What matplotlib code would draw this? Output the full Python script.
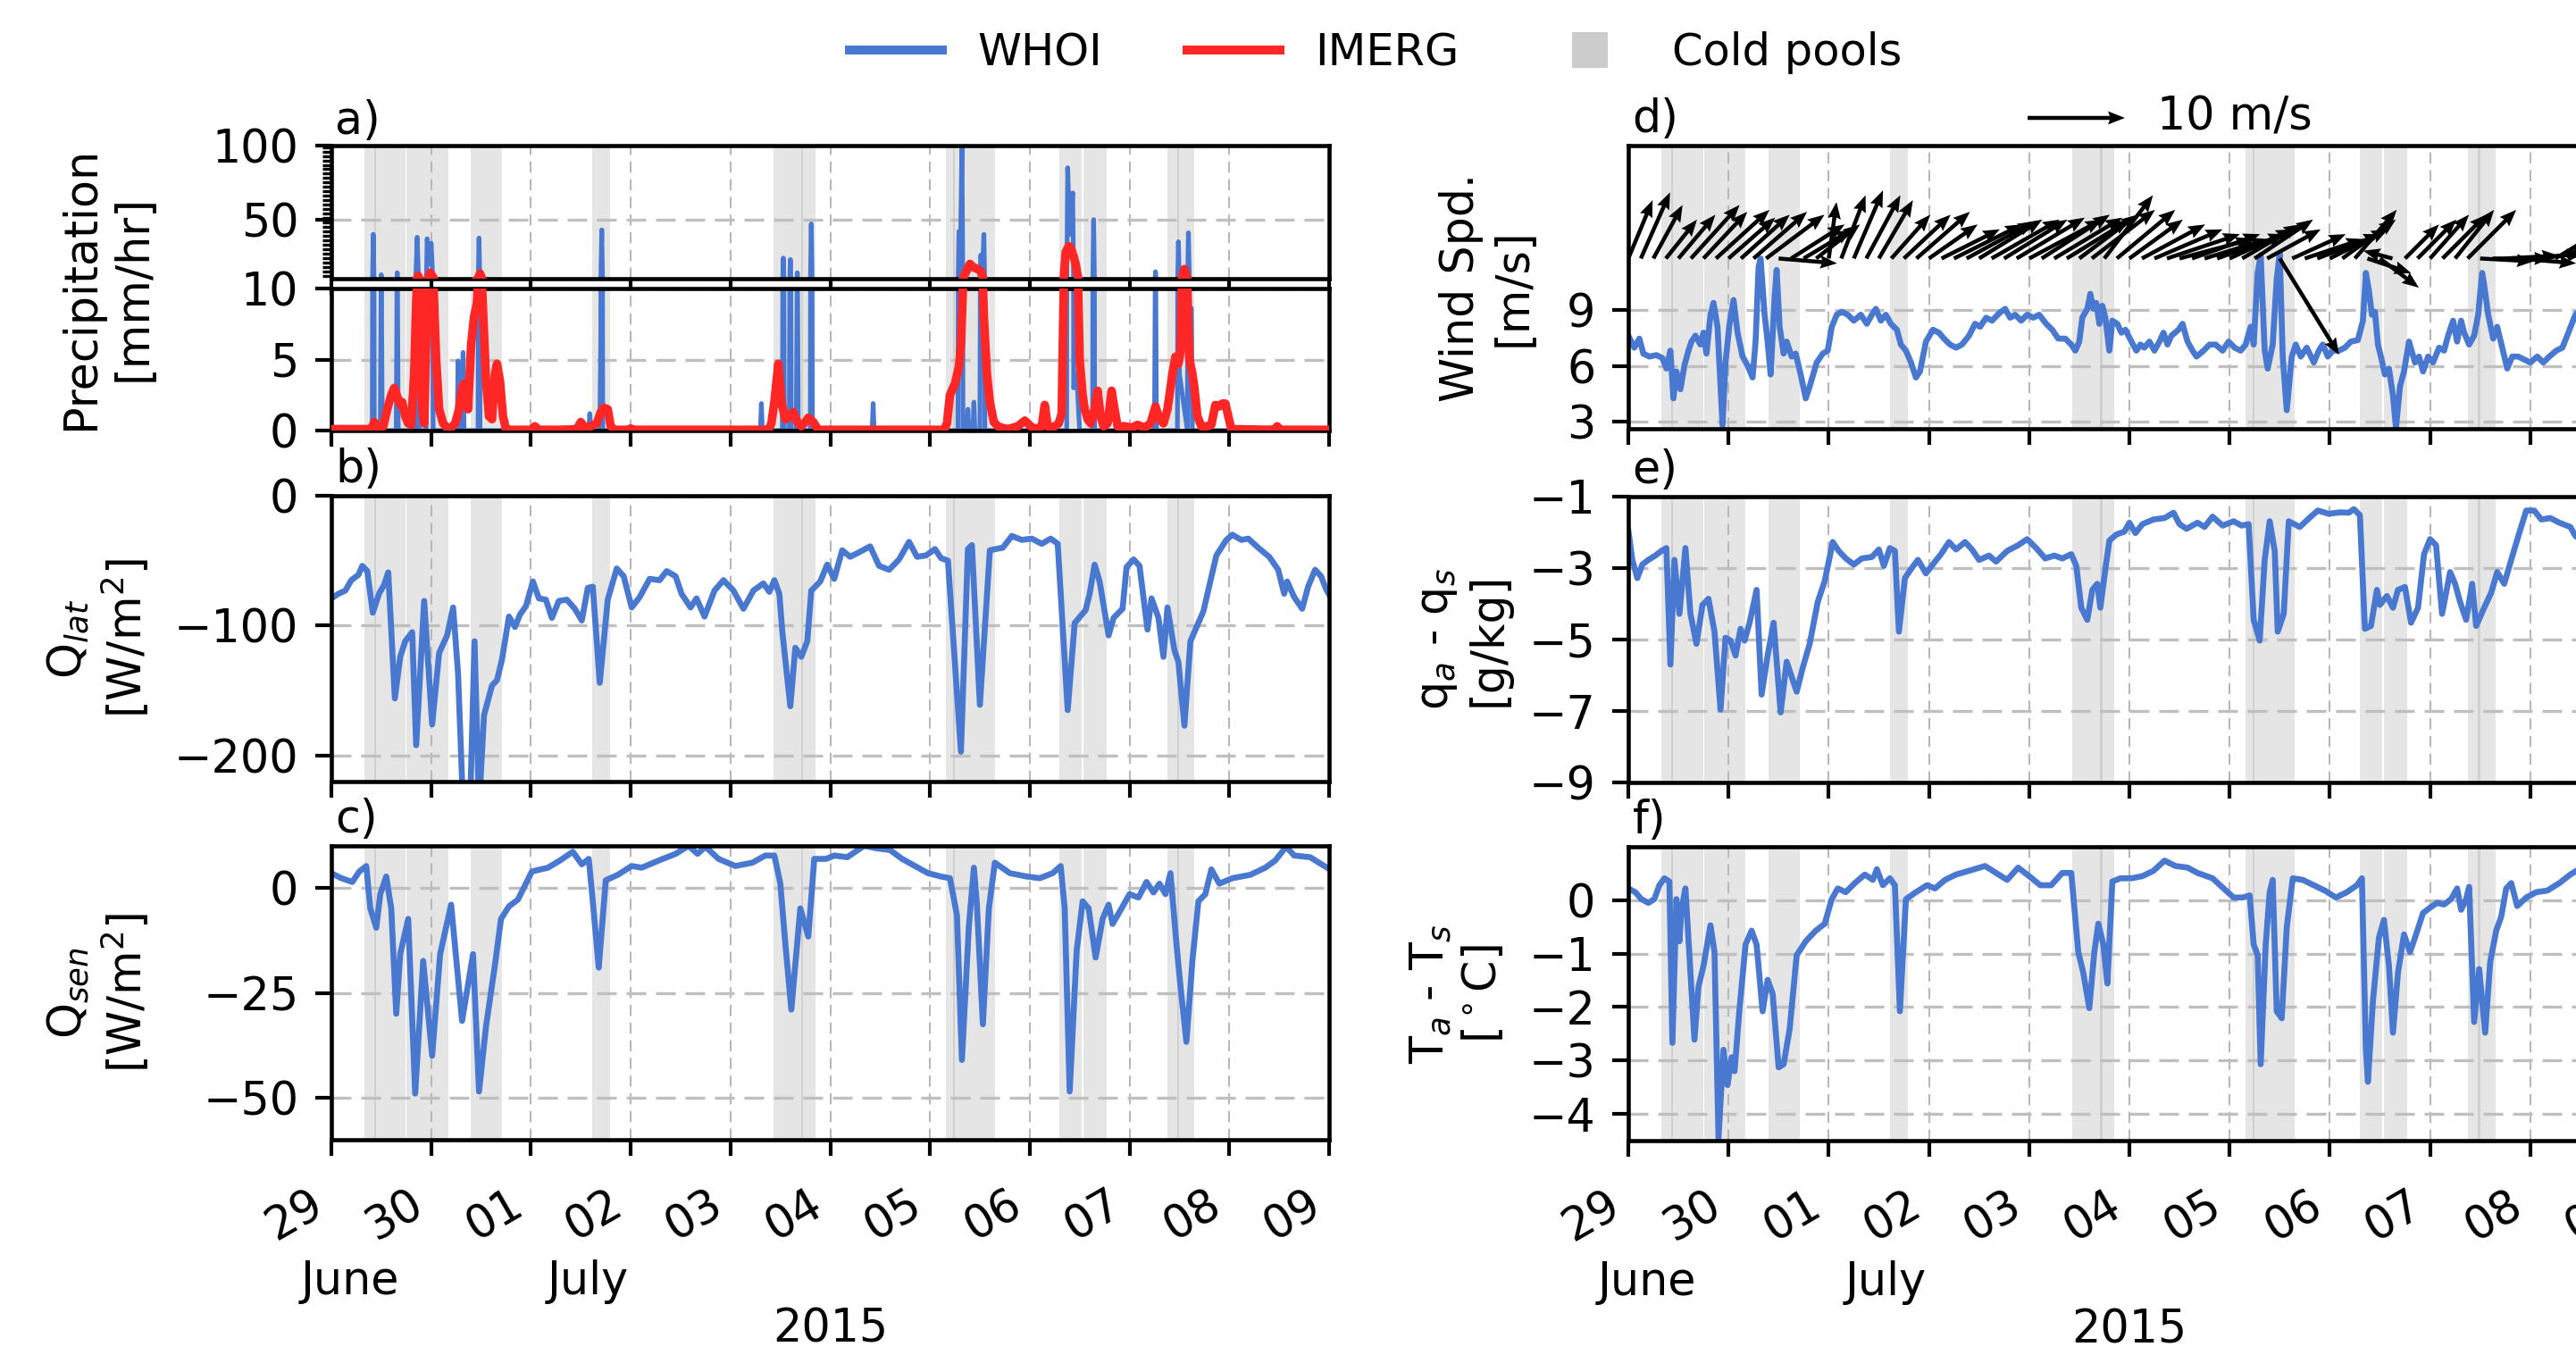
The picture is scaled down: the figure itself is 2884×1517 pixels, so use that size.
import numpy as np
import matplotlib
matplotlib.use('Agg')
import matplotlib.pyplot as plt
import matplotlib.dates as mdates
import matplotlib.transforms as mtransforms
from matplotlib.ticker import MultipleLocator, FixedLocator
from matplotlib.lines import Line2D

plt.rcParams['font.family'] = ['DejaVu Sans']
plt.rcParams['font.size'] = 12.2
plt.rcParams['axes.linewidth'] = 1.1

# ---------------- data (days since 2015-06-29 00:00) ----------------
START_DATE = '2015-06-29'
N_DAYS = 10

COLD_POOLS = [[0.33, 0.45], [0.43, 0.745], [0.755, 1.17], [1.40, 1.71], [2.61, 2.79],
              [4.43, 4.73], [4.71, 4.85], [6.16, 6.25], [6.23, 6.65], [7.30, 7.52],
              [7.54, 7.77], [8.38, 8.50], [8.48, 8.65]]

WHOI_PRECIP = [[0.00, 0], [0.41, 0], [0.42, 40], [0.43, 0], [0.49, 0], [0.50, 12.7], [0.51, 0],
               [0.65, 0], [0.66, 14], [0.67, 0], [0.84, 0], [0.85, 18], [0.86, 38], [0.87, 16],
               [0.88, 0], [0.95, 0], [0.96, 37], [0.98, 20], [1.00, 34], [1.01, 20], [1.02, 0],
               [1.26, 0], [1.27, 4.9], [1.28, 0], [1.31, 0], [1.32, 5.5], [1.33, 0], [1.47, 0],
               [1.48, 37.5], [1.49, 0], [2.58, 0], [2.59, 1.2], [2.60, 0], [2.69, 0], [2.70, 6.3],
               [2.71, 43], [2.72, 0], [4.30, 0], [4.31, 1.9], [4.32, 0], [4.52, 0], [4.53, 24],
               [4.54, 0], [4.59, 0], [4.60, 23], [4.61, 0], [4.66, 0], [4.67, 14], [4.68, 0],
               [4.80, 0], [4.81, 47], [4.82, 0], [5.42, 0], [5.43, 1.9], [5.44, 0], [6.28, 0],
               [6.29, 42], [6.30, 5], [6.32, 100], [6.33, 0], [6.37, 0], [6.38, 1.5], [6.39, 0],
               [6.43, 0], [6.44, 2.0], [6.45, 0], [6.50, 0], [6.51, 26], [6.52, 5], [6.54, 40],
               [6.55, 0], [7.37, 0], [7.38, 85], [7.40, 40], [7.43, 68], [7.44, 3], [7.47, 4],
               [7.50, 0], [7.63, 0], [7.64, 50], [7.65, 0], [8.25, 0], [8.26, 14.7], [8.27, 0],
               [8.48, 0], [8.49, 35], [8.50, 4], [8.58, 0], [8.59, 41], [8.60, 8.6], [8.62, 8.6],
               [8.63, 0], [10.0, 0]]

IMERG_PRECIP = [[0.00, 0.1], [0.40, 0.1], [0.43, 0.6], [0.47, 0.1], [0.52, 0.3], [0.56, 1.5],
                [0.60, 2.5], [0.63, 3.0], [0.65, 2.6], [0.67, 2.2], [0.69, 1.8], [0.71, 2.0],
                [0.74, 1.0], [0.77, 0.5], [0.80, 0.4], [0.83, 4.0], [0.85, 9.0], [0.87, 12.0],
                [0.89, 8.0], [0.91, 1.5], [0.93, 0.5], [0.96, 9.0], [0.99, 14.0], [1.02, 11.0],
                [1.05, 5.0], [1.08, 1.5], [1.12, 0.5], [1.16, 0.2], [1.20, 0.2], [1.24, 0.5],
                [1.28, 1.5], [1.31, 3.0], [1.33, 3.3], [1.35, 2.0], [1.37, 1.5], [1.40, 6.0],
                [1.43, 8.0], [1.46, 9.0], [1.49, 13.5], [1.52, 8.5], [1.55, 3.5], [1.58, 1.0],
                [1.61, 0.8], [1.64, 4.0], [1.66, 4.7], [1.69, 3.5], [1.72, 1.0], [1.75, 0.1],
                [1.80, 0.05], [2.00, 0.05], [2.04, 0.3], [2.08, 0.05], [2.30, 0.05], [2.46, 0.1],
                [2.50, 0.6], [2.54, 0.2], [2.60, 0.3], [2.66, 0.5], [2.70, 1.3], [2.73, 1.6],
                [2.77, 1.5], [2.80, 0.3], [2.84, 0.05], [2.98, 0.05], [3.00, 0.15], [3.03, 0.05],
                [4.38, 0.05], [4.41, 0.5], [4.44, 2.0], [4.48, 4.7], [4.51, 2.0], [4.55, 0.8],
                [4.58, 0.9], [4.63, 1.3], [4.67, 0.6], [4.71, 0.3], [4.75, 0.6], [4.78, 0.9],
                [4.83, 0.6], [4.88, 0.05], [6.14, 0.05], [6.17, 0.5], [6.20, 2.5], [6.25, 3.3],
                [6.29, 4.5], [6.31, 6.0], [6.33, 10.0], [6.35, 13.0], [6.38, 17.0], [6.40, 20.0],
                [6.43, 18.0], [6.46, 17.0], [6.49, 16.0], [6.51, 15.0], [6.54, 8.0], [6.57, 4.0],
                [6.60, 2.0], [6.64, 0.6], [6.68, 0.3], [6.72, 0.2], [6.78, 0.1], [6.88, 0.3],
                [6.95, 0.7], [7.01, 0.3], [7.06, 0.1], [7.12, 0.3], [7.15, 1.8], [7.18, 0.3],
                [7.22, 0.2], [7.25, 0.3], [7.29, 0.5], [7.32, 1.2], [7.34, 10.0], [7.36, 28.0],
                [7.39, 32.0], [7.41, 31.0], [7.44, 25.0], [7.46, 20.0], [7.48, 12.0], [7.50, 5.0],
                [7.53, 2.5], [7.55, 1.5], [7.58, 0.8], [7.61, 0.5], [7.65, 1.5], [7.68, 2.8],
                [7.71, 1.0], [7.74, 0.3], [7.78, 0.5], [7.82, 2.8], [7.85, 1.5], [7.88, 0.3],
                [7.95, 0.3], [8.02, 0.2], [8.08, 0.4], [8.15, 0.2], [8.21, 0.5], [8.26, 1.7],
                [8.30, 0.8], [8.34, 0.5], [8.38, 1.5], [8.40, 2.5], [8.43, 4.0], [8.46, 5.2],
                [8.49, 4.7], [8.51, 5.5], [8.53, 12.0], [8.55, 16.5], [8.57, 12.0], [8.60, 5.0],
                [8.63, 4.0], [8.65, 3.0], [8.68, 1.0], [8.72, 0.3], [8.78, 0.3], [8.82, 0.4],
                [8.86, 1.8], [8.90, 1.7], [8.93, 1.9], [8.96, 1.9], [8.99, 1.0], [9.02, 0.1],
                [9.40, 0.05], [9.46, 0.1], [9.48, 0.3], [9.51, 0.05], [10.0, 0.05]]

Q_LAT = [[0.00, -79], [0.07, -75.5], [0.14, -73], [0.20, -65], [0.27, -61], [0.31, -54], [0.36, -58],
         [0.415, -90], [0.48, -75], [0.526, -69], [0.57, -59], [0.636, -156], [0.69, -124],
         [0.74, -112], [0.81, -105], [0.85, -192], [0.93, -81], [1.01, -176], [1.08, -121],
         [1.16, -107.5], [1.22, -86], [1.27, -137], [1.32, -240], [1.39, -240], [1.435, -112],
         [1.48, -240], [1.53, -169], [1.61, -146], [1.66, -142], [1.71, -126], [1.78, -93],
         [1.84, -101], [1.89, -91.5], [1.95, -85], [2.02, -66], [2.08, -79], [2.15, -80],
         [2.21, -94], [2.28, -81], [2.36, -80], [2.44, -87], [2.51, -96], [2.57, -71], [2.62, -70],
         [2.69, -144], [2.77, -80], [2.86, -56], [2.93, -62], [3.01, -86], [3.09, -78], [3.19, -64],
         [3.29, -65], [3.36, -58], [3.45, -62], [3.51, -75.5], [3.60, -86], [3.66, -79], [3.74, -93],
         [3.84, -73], [3.93, -65], [4.03, -73], [4.13, -87], [4.23, -73], [4.33, -67.5], [4.39, -74],
         [4.44, -65], [4.49, -75.5], [4.52, -105], [4.60, -162], [4.65, -117], [4.71, -124],
         [4.77, -112], [4.81, -73], [4.90, -66], [4.97, -53], [5.04, -64], [5.12, -42], [5.20, -47],
         [5.29, -43.5], [5.40, -39], [5.49, -54], [5.59, -57], [5.69, -49], [5.79, -35.5],
         [5.87, -47], [5.96, -46], [6.05, -41], [6.11, -48], [6.18, -50], [6.31, -197], [6.38, -41],
         [6.42, -38], [6.50, -161], [6.60, -42], [6.66, -41], [6.73, -40], [6.82, -31], [6.92, -34],
         [7.02, -33], [7.12, -37], [7.21, -33], [7.28, -37], [7.38, -165], [7.45, -98], [7.56, -88],
         [7.60, -75.5], [7.65, -53], [7.70, -66], [7.79, -107.5], [7.84, -94], [7.93, -87],
         [7.97, -55], [8.04, -49], [8.10, -54], [8.18, -103], [8.22, -79], [8.29, -94], [8.34, -124],
         [8.38, -86], [8.45, -119], [8.49, -128], [8.55, -177], [8.61, -112], [8.74, -89],
         [8.87, -46], [8.97, -34], [9.03, -30], [9.12, -34], [9.19, -33], [9.29, -40], [9.40, -47],
         [9.49, -57], [9.55, -75.5], [9.58, -66], [9.65, -78], [9.73, -87], [9.79, -70], [9.86, -57],
         [9.92, -62], [9.97, -72], [10.0, -76]]

Q_SEN = [[0.00, 3.5], [0.10, 2.3], [0.21, 1.4], [0.28, 3.9], [0.35, 5.2], [0.39, -4.9], [0.45, -9.5],
         [0.49, -1.5], [0.55, 2.7], [0.60, -4.9], [0.65, -30], [0.69, -15.8], [0.77, -7.4],
         [0.84, -49], [0.92, -17.4], [1.01, -40], [1.09, -15.8], [1.20, -4], [1.31, -31.7],
         [1.42, -15.8], [1.48, -48.5], [1.55, -33], [1.64, -18.3], [1.70, -7.4], [1.78, -4.4],
         [1.87, -2.8], [2.01, 3.9], [2.17, 4.8], [2.29, 6.5], [2.42, 8.6], [2.51, 5.6], [2.58, 6.9],
         [2.62, -3.2], [2.68, -19], [2.75, 1.8], [2.87, 3.1], [3.01, 5.2], [3.11, 4.8], [3.28, 6.5],
         [3.45, 8.1], [3.58, 10], [3.67, 8.1], [3.75, 9.8], [3.88, 6.9], [4.05, 5.2], [4.22, 6.0],
         [4.35, 7.7], [4.44, 7.7], [4.50, 1.0], [4.55, -13.3], [4.61, -29], [4.70, -4.9],
         [4.78, -11.6], [4.84, 6.9], [4.96, 6.9], [5.04, 7.7], [5.17, 7.3], [5.34, 10], [5.47, 9.4],
         [5.60, 9], [5.72, 6.9], [5.85, 5.2], [5.98, 3.5], [6.11, 2.7], [6.20, 2.3], [6.27, -6.5],
         [6.32, -41], [6.39, -9], [6.44, 4.8], [6.47, -4], [6.53, -32.5], [6.59, -4.9], [6.65, 6],
         [6.80, 3.5], [6.97, 2.7], [7.10, 2.3], [7.23, 3.5], [7.31, 5.2], [7.35, -4.9], [7.40, -48.5],
         [7.47, -15], [7.53, -3.2], [7.59, -4.9], [7.66, -16.6], [7.73, -7.4], [7.79, -4],
         [7.83, -8.6], [7.92, -4.9], [8.00, -1.5], [8.09, -2.3], [8.17, 1.4], [8.24, -1.1],
         [8.30, 1.0], [8.36, -1.5], [8.41, 3.5], [8.47, -13.3], [8.51, -23.3], [8.57, -36.7],
         [8.63, -17.4], [8.69, -3.2], [8.76, -1.5], [8.82, 4.4], [8.90, 1.0], [9.03, 2.3],
         [9.21, 3.1], [9.36, 4.8], [9.46, 6.5], [9.57, 9.8], [9.65, 7.7], [9.81, 7.3], [9.98, 4.8]]

WIND_SPEED = [[0.00, 7.63], [0.06, 6.98], [0.11, 7.47], [0.15, 6.66], [0.21, 6.5], [0.28, 6.58],
              [0.34, 6.42], [0.38, 5.85], [0.42, 6.82], [0.45, 4.24], [0.48, 5.69], [0.52, 4.73],
              [0.56, 6.02], [0.60, 6.82], [0.63, 7.31], [0.67, 7.63], [0.72, 7.15], [0.75, 7.79],
              [0.78, 6.66], [0.82, 8.76], [0.85, 9.40], [0.89, 8.11], [0.94, 2.79], [0.97, 6.18],
              [1.01, 8.27], [1.05, 9.56], [1.09, 7.79], [1.14, 6.5], [1.19, 6.02], [1.24, 5.37],
              [1.27, 7.31], [1.30, 11.34], [1.32, 11.8], [1.36, 8.76], [1.39, 7.31], [1.42, 5.53],
              [1.46, 9.73], [1.48, 11.18], [1.51, 8.11], [1.55, 6.66], [1.58, 7.31], [1.63, 6.5],
              [1.67, 6.66], [1.72, 5.53], [1.77, 4.24], [1.81, 4.89], [1.88, 6.18], [1.94, 6.66],
              [1.99, 6.82], [2.03, 8.11], [2.08, 8.76], [2.13, 8.92], [2.19, 8.76], [2.25, 8.44],
              [2.32, 8.76], [2.38, 8.27], [2.43, 8.76], [2.47, 9.08], [2.52, 8.44], [2.57, 8.76],
              [2.62, 8.27], [2.68, 7.95], [2.72, 7.15], [2.77, 6.82], [2.82, 6.18], [2.87, 5.37],
              [2.91, 5.69], [2.97, 7.31], [3.04, 7.95], [3.10, 7.79], [3.15, 7.47], [3.21, 7.15],
              [3.27, 6.98], [3.33, 7.15], [3.40, 7.63], [3.46, 8.27], [3.51, 8.11], [3.57, 8.60],
              [3.63, 8.44], [3.70, 8.84], [3.76, 9.08], [3.81, 8.60], [3.86, 8.76], [3.92, 8.44],
              [3.98, 8.76], [4.04, 8.60], [4.10, 8.76], [4.17, 8.27], [4.23, 7.95], [4.29, 7.47],
              [4.36, 7.47], [4.42, 7.15], [4.46, 6.82], [4.50, 7.31], [4.53, 8.60], [4.58, 9.08],
              [4.61, 9.89], [4.64, 9.08], [4.67, 9.40], [4.70, 8.27], [4.73, 9.24], [4.76, 8.60],
              [4.80, 6.82], [4.83, 8.44], [4.88, 8.27], [4.92, 7.79], [4.96, 7.95], [5.02, 7.31],
              [5.07, 6.82], [5.11, 7.15], [5.15, 6.98], [5.20, 7.31], [5.25, 6.82], [5.30, 7.31],
              [5.34, 7.79], [5.38, 7.15], [5.42, 7.63], [5.49, 7.95], [5.53, 8.27], [5.58, 7.31],
              [5.63, 6.82], [5.67, 6.5], [5.74, 6.82], [5.80, 7.15], [5.86, 7.15], [5.93, 6.82],
              [5.99, 7.31], [6.05, 6.98], [6.11, 6.82], [6.16, 7.15], [6.21, 8.11], [6.24, 7.15],
              [6.28, 11.02], [6.31, 11.98], [6.35, 6.82], [6.38, 5.85], [6.43, 7.15], [6.47, 10.69],
              [6.50, 12.1], [6.53, 6.5], [6.57, 3.6], [6.62, 6.5], [6.66, 7.15], [6.71, 6.5],
              [6.77, 6.98], [6.84, 6.18], [6.89, 6.82], [6.93, 7.15], [6.98, 6.5], [7.03, 6.82],
              [7.09, 6.82], [7.15, 6.98], [7.21, 7.31], [7.28, 7.39], [7.33, 8.44], [7.36, 11.02],
              [7.39, 10.05], [7.42, 8.76], [7.45, 8.92], [7.48, 7.15], [7.51, 6.5], [7.55, 5.53],
              [7.59, 5.85], [7.63, 4.4], [7.66, 2.63], [7.70, 4.89], [7.74, 5.69], [7.79, 7.31],
              [7.85, 6.18], [7.89, 6.5], [7.93, 5.69], [7.98, 6.5], [8.03, 6.18], [8.09, 6.98],
              [8.14, 6.82], [8.18, 7.63], [8.23, 8.44], [8.27, 7.31], [8.31, 8.44], [8.34, 7.79],
              [8.39, 7.15], [8.44, 7.63], [8.48, 8.76], [8.52, 11.02], [8.54, 10.37], [8.58, 8.76],
              [8.63, 7.47], [8.67, 8.11], [8.72, 6.98], [8.77, 5.85], [8.82, 6.5], [8.88, 6.5],
              [8.94, 6.34], [9.00, 6.18], [9.07, 6.5], [9.13, 6.18], [9.19, 6.5], [9.26, 6.82],
              [9.32, 6.98], [9.38, 7.79], [9.45, 8.76], [9.55, 9.3]]

# wind vectors: day, u (m/s), v (m/s)
WIND_VECTORS = [[0.000, 2.5, 6.0], [0.125, 3.0, 6.8], [0.250, 3.0, 5.5], [0.375, 3.2, 4.0],
                [0.500, 3.8, 4.5], [0.625, 5.0, 5.5], [0.750, 4.5, 4.8], [0.875, 5.5, 5.0],
                [1.000, 4.8, 4.2], [1.125, 5.0, 4.5], [1.250, 5.5, 4.8], [1.375, 6.0, 4.5],
                [1.500, 6.0, -0.5], [1.625, 5.5, 3.5], [1.750, 5.0, 3.0], [1.875, 4.5, 3.5],
                [2.000, 0.8, 5.8], [2.125, 2.5, 6.5], [2.250, 3.0, 7.0], [2.375, 3.5, 6.5],
                [2.500, 3.5, 6.0], [2.625, 4.0, 4.5], [2.750, 4.8, 4.5], [2.875, 5.5, 4.8],
                [3.000, 5.0, 3.5], [3.125, 6.0, 3.0], [3.250, 7.0, 3.5], [3.375, 7.0, 3.8],
                [3.500, 6.5, 4.0], [3.625, 7.0, 4.0], [3.750, 6.5, 4.0], [3.875, 7.0, 4.2],
                [4.000, 7.5, 4.0], [4.125, 7.0, 4.5], [4.250, 7.0, 4.2], [4.375, 6.5, 4.0],
                [4.500, 6.0, 4.5], [4.625, 6.5, 5.0], [4.750, 5.0, 6.5], [4.875, 6.0, 5.0],
                [5.000, 5.5, 4.0], [5.125, 6.5, 3.5], [5.250, 7.0, 3.0], [5.375, 7.5, 2.5],
                [5.500, 7.5, 2.0], [5.625, 7.0, 2.5], [5.750, 6.5, 2.0], [5.875, 7.0, 2.5],
                [6.000, 6.5, 3.0], [6.125, 6.0, 3.5], [6.250, 6.0, 4.0], [6.375, 5.5, 3.0],
                [6.500, 6.1, -9.9], [6.625, 5.5, 2.5], [6.750, 6.0, 2.0], [6.875, 6.5, 2.5],
                [7.000, 6.0, 3.0], [7.125, 5.5, 4.0], [7.250, 4.3, 5.0], [7.375, 4.5, -1.5],
                [7.500, 4.0, -3.0], [7.625, -3.0, 0.8], [7.750, 3.5, 3.5], [7.875, 4.0, 4.0],
                [8.000, 4.0, 4.5], [8.125, 4.5, 4.5], [8.250, 4.0, 5.0], [8.375, 5.0, 5.0],
                [8.500, 5.5, -0.3], [8.625, 6.0, 0.0], [8.750, 5.5, 0.3], [8.875, 6.0, -0.5],
                [9.000, 5.5, 0.5], [9.125, 6.0, 1.0], [9.250, 5.0, 3.0], [9.375, 4.5, 4.5],
                [9.500, 5.0, 3.5]]
VECTOR_LEVEL = 11.8   # m/s level where arrows start

Q_DIFF = [[0.00, -1.94], [0.04, -2.77], [0.09, -3.28], [0.14, -2.9], [0.20, -2.77], [0.27, -2.65],
          [0.33, -2.52], [0.38, -2.44], [0.42, -5.7], [0.46, -2.77], [0.51, -4.28], [0.57, -2.44],
          [0.62, -4.28], [0.68, -5.12], [0.74, -4.03], [0.80, -3.86], [0.86, -4.78], [0.92, -6.96],
          [0.97, -4.95], [1.02, -5.03], [1.07, -5.45], [1.12, -4.70], [1.16, -5.03], [1.21, -4.53],
          [1.28, -3.61], [1.33, -6.54], [1.39, -5.45], [1.45, -4.53], [1.52, -7.04], [1.58, -5.62],
          [1.63, -6.04], [1.68, -6.46], [1.74, -5.79], [1.81, -5.12], [1.89, -3.95], [1.96, -3.36],
          [2.04, -2.27], [2.10, -2.52], [2.17, -2.73], [2.25, -2.9], [2.33, -2.73], [2.43, -2.69],
          [2.50, -2.48], [2.55, -2.94], [2.61, -2.44], [2.66, -2.52], [2.70, -4.78], [2.76, -3.28],
          [2.82, -3.03], [2.89, -2.77], [2.97, -3.15], [3.06, -2.82], [3.12, -2.61], [3.20, -2.27],
          [3.27, -2.48], [3.36, -2.27], [3.43, -2.48], [3.50, -2.77], [3.60, -2.65], [3.67, -2.82],
          [3.78, -2.52], [3.89, -2.36], [3.98, -2.19], [4.07, -2.44], [4.16, -2.73], [4.25, -2.65],
          [4.33, -2.73], [4.42, -2.61], [4.47, -2.94], [4.52, -4.11], [4.58, -4.45], [4.63, -3.61],
          [4.68, -3.44], [4.71, -4.11], [4.76, -3.03], [4.80, -2.23], [4.87, -2.06], [4.95, -1.98],
          [5.00, -1.73], [5.06, -2.02], [5.13, -1.77], [5.24, -1.64], [5.35, -1.60], [5.44, -1.45],
          [5.50, -1.77], [5.57, -1.90], [5.68, -1.73], [5.75, -1.85], [5.83, -1.56], [5.93, -1.81],
          [6.04, -1.69], [6.12, -1.81], [6.19, -1.77], [6.24, -4.45], [6.30, -5.03], [6.35, -2.77],
          [6.40, -1.69], [6.45, -2.52], [6.48, -4.78], [6.54, -4.28], [6.59, -1.69], [6.70, -1.85],
          [6.81, -1.56], [6.88, -1.39], [6.99, -1.48], [7.10, -1.44], [7.19, -1.45], [7.24, -1.35],
          [7.30, -1.52], [7.35, -4.70], [7.41, -4.62], [7.47, -3.61], [7.50, -4.03], [7.57, -3.78],
          [7.63, -4.11], [7.68, -3.61], [7.75, -3.53], [7.81, -4.53], [7.88, -4.11], [7.94, -2.61],
          [8.00, -2.19], [8.06, -2.36], [8.12, -4.28], [8.20, -3.11], [8.25, -3.44], [8.30, -3.95],
          [8.36, -4.45], [8.42, -3.44], [8.46, -4.62], [8.54, -4.11], [8.61, -3.69], [8.67, -3.11],
          [8.74, -3.44], [8.81, -2.77], [8.89, -2.02], [8.96, -1.39], [9.04, -1.39], [9.11, -1.64],
          [9.20, -1.60], [9.29, -1.73], [9.40, -1.85], [9.45, -2.10], [9.55, -2.3]]

T_DIFF = [[0.00, 0.22], [0.07, 0.15], [0.13, 0.02], [0.20, -0.05], [0.26, 0.02], [0.31, 0.28],
          [0.36, 0.41], [0.41, 0.35], [0.44, -2.67], [0.48, 0.02], [0.51, -0.77], [0.53, -0.18],
          [0.57, 0.22], [0.62, -1.36], [0.66, -2.61], [0.70, -1.62], [0.75, -1.23], [0.82, -0.47],
          [0.86, -0.97], [0.90, -4.45], [0.95, -2.80], [0.99, -3.46], [1.03, -2.94], [1.06, -3.2],
          [1.11, -2.02], [1.17, -0.83], [1.23, -0.57], [1.28, -0.83], [1.34, -2.08], [1.39, -1.49],
          [1.44, -1.75], [1.50, -3.13], [1.55, -3.07], [1.61, -2.41], [1.68, -1.03], [1.77, -0.77],
          [1.87, -0.57], [1.96, -0.44], [2.03, 0.02], [2.09, 0.22], [2.17, 0.15], [2.26, 0.32],
          [2.36, 0.48], [2.44, 0.38], [2.48, 0.58], [2.54, 0.28], [2.61, 0.41], [2.66, 0.28],
          [2.71, -2.08], [2.77, 0.02], [2.87, 0.15], [2.98, 0.28], [3.06, 0.22], [3.16, 0.38],
          [3.27, 0.48], [3.40, 0.55], [3.56, 0.64], [3.67, 0.51], [3.78, 0.38], [3.89, 0.61],
          [4.00, 0.45], [4.11, 0.28], [4.22, 0.28], [4.33, 0.51], [4.42, 0.51], [4.49, -0.97],
          [4.54, -1.36], [4.60, -2.02], [4.65, -0.97], [4.69, -0.44], [4.74, -0.83], [4.78, -1.56],
          [4.83, 0.35], [4.91, 0.41], [5.02, 0.41], [5.13, 0.45], [5.24, 0.55], [5.35, 0.74],
          [5.46, 0.64], [5.58, 0.61], [5.68, 0.51], [5.83, 0.41], [5.94, 0.22], [6.04, 0.05],
          [6.13, 0.05], [6.20, 0.09], [6.24, -0.83], [6.28, -1.03], [6.31, -3.07], [6.36, -0.83],
          [6.40, 0.15], [6.43, 0.38], [6.47, -2.08], [6.52, -2.21], [6.57, -0.51], [6.63, 0.41],
          [6.73, 0.38], [6.84, 0.28], [6.95, 0.18], [7.06, 0.05], [7.17, 0.15], [7.27, 0.28],
          [7.32, 0.41], [7.36, -2.80], [7.38, -3.40], [7.43, -1.89], [7.49, -0.70], [7.54, -0.37],
          [7.59, -1.23], [7.63, -2.48], [7.68, -1.36], [7.74, -0.64], [7.80, -0.97], [7.85, -0.70],
          [7.93, -0.24], [8.00, -0.14], [8.07, -0.05], [8.14, -0.08], [8.21, 0.02], [8.27, 0.22],
          [8.31, -0.18], [8.36, 0.02], [8.39, 0.25], [8.44, -2.28], [8.49, -1.29], [8.55, -2.48],
          [8.60, -1.16], [8.66, -0.57], [8.71, -0.31], [8.76, 0.22], [8.81, 0.32], [8.87, -0.11],
          [8.96, 0.05], [9.06, 0.15], [9.17, 0.18], [9.29, 0.32], [9.40, 0.48], [9.46, 0.55],
          [9.55, 0.6]]

DAY_LABEL_MONTHS = [['June', 0.19], ['July', 2.57]]
YEAR_LABEL = '2015'

# ---------------- styling ----------------
BLUE = '#4878d0'
RED = '#ff2626'
LW_SERIES = 1.6
W, H, DPI = 2884, 1517, 300

fig = plt.figure(figsize=(W / DPI, H / DPI), dpi=DPI)

def frac(x_px, top_px, w_px, bottom_px):
    return [x_px / W, 1 - bottom_px / H, w_px / W, (bottom_px - top_px) / H]

LX, LW = 371, 1117
RX, RW = 1823, 1122
ax_a1 = fig.add_axes(frac(LX, 163, LW, 312))
ax_a2 = fig.add_axes(frac(LX, 323, LW, 482))
ax_b = fig.add_axes(frac(LX, 555, LW, 875))
ax_c = fig.add_axes(frac(LX, 947, LW, 1276))
ax_d = fig.add_axes(frac(RX, 163, RW, 480))
ax_e = fig.add_axes(frac(RX, 556, RW, 876))
ax_f = fig.add_axes(frac(RX, 948, RW, 1277))
all_axes = [ax_a1, ax_a2, ax_b, ax_c, ax_d, ax_e, ax_f]

x0 = mdates.date2num(np.datetime64(START_DATE))

def xy(series):
    arr = np.asarray(series, dtype=float)
    return x0 + arr[:, 0], arr[:, 1]

for ax in all_axes:
    for s, e in COLD_POOLS:
        ax.axvspan(x0 + s, x0 + e, color='gray', alpha=0.2, lw=0, zorder=1)
    ax.set_xlim(x0, x0 + N_DAYS)
    ax.xaxis.set_major_locator(mdates.DayLocator())
    ax.xaxis.set_major_formatter(mdates.DateFormatter('%d'))
    ax.grid(axis='x', color='0.72', lw=0.5, ls=(0, (6, 3.5)))
    ax.grid(axis='y', color='0.75', lw=0.8, ls=(0, (6.6, 3.3)))
    ax.tick_params(axis='both', which='major', direction='out', length=4.3, width=1.0, pad=4.5)
    if ax not in (ax_c, ax_f):
        ax.tick_params(axis='x', labelbottom=False)
    for sp in ax.spines.values():
        sp.set_linewidth(1.1)

# precipitation (broken axis)
wx, wy = xy(WHOI_PRECIP)
ix, iy = xy(IMERG_PRECIP)
for ax in (ax_a1, ax_a2):
    ax.plot(wx, wy, color=BLUE, lw=1.25, zorder=2)
    ax.plot(ix, iy, color=RED, lw=2.3, zorder=3)
ax_a1.set_ylim(10, 100)
ax_a1.yaxis.set_major_locator(FixedLocator([50, 100]))
ax_a1.yaxis.set_minor_locator(MultipleLocator(3))
ax_a1.tick_params(axis='y', which='minor', length=2.4, width=0.8)
ax_a2.set_ylim(0, 10)
ax_a2.yaxis.set_major_locator(FixedLocator([0, 5, 10]))
fig.text(120 / W, 1 - 322 / H, 'Precipitation\n[mm/hr]', rotation=90,
         ha='center', va='center', multialignment='center')

# latent / sensible heat flux
bx, by = xy(Q_LAT)
ax_b.plot(bx, by, color=BLUE, lw=LW_SERIES, zorder=2)
ax_b.set_ylim(-220, 0)
ax_b.yaxis.set_major_locator(FixedLocator([0, -100, -200]))
ax_b.set_ylabel('Q$_{lat}$\n[W/m$^2$]')
ax_b.yaxis.set_label_coords(-0.18, 0.5)

cx, cy = xy(Q_SEN)
ax_c.plot(cx, cy, color=BLUE, lw=LW_SERIES, zorder=2)
ax_c.set_ylim(-60, 10)
ax_c.yaxis.set_major_locator(FixedLocator([0, -25, -50]))
ax_c.set_ylabel('Q$_{sen}$\n[W/m$^2$]')
ax_c.yaxis.set_label_coords(-0.18, 0.5)

# wind
dx, dy = xy(WIND_SPEED)
ax_d.plot(dx, dy, color=BLUE, lw=LW_SERIES, zorder=2)
wv = np.asarray(WIND_VECTORS, dtype=float)
q = ax_d.quiver(x0 + wv[:, 0], np.full(len(wv), VECTOR_LEVEL), wv[:, 1], wv[:, 2],
                angles='uv', scale_units='x', scale=10.3, pivot='tail', width=0.0040,
                headwidth=3.3, headlength=4.2, headaxislength=3.8, color='k', zorder=4)
ax_d.quiverkey(q, 2379 / W, 1 - 132 / H, 10, '10 m/s', labelpos='E', coordinates='figure',
               labelsep=0.12, fontproperties={'size': 12.2})
ax_d.set_ylim(2.6, 17.9)
ax_d.yaxis.set_major_locator(FixedLocator([3, 6, 9]))
ax_d.set_ylabel('Wind Spd.\n[m/s]')
ax_d.yaxis.set_label_coords(-0.093, 0.5)

ex, ey = xy(Q_DIFF)
ax_e.plot(ex, ey, color=BLUE, lw=LW_SERIES, zorder=2)
ax_e.set_ylim(-9, -1)
ax_e.yaxis.set_major_locator(FixedLocator([-1, -3, -5, -7, -9]))
ax_e.set_ylabel('q$_a$ - q$_s$\n[g/kg]')
ax_e.yaxis.set_label_coords(-0.117, 0.5)

fx, fy = xy(T_DIFF)
ax_f.plot(fx, fy, color=BLUE, lw=LW_SERIES, zorder=2)
ax_f.set_ylim(-4.5, 1)
ax_f.yaxis.set_major_locator(FixedLocator([0, -1, -2, -3, -4]))
ax_f.set_ylabel('T$_a$ - T$_s$\n[$^\\circ$C]')
ax_f.yaxis.set_label_coords(-0.122, 0.5)

# bottom date labels
for ax in (ax_c, ax_f):
    ax.tick_params(axis='x', pad=7)
    for lab in ax.get_xticklabels():
        lab.set_rotation(30)
        lab.set_ha('right')
    trans = mtransforms.blended_transform_factory(ax.transData, ax.transAxes)
    for name, day in DAY_LABEL_MONTHS:
        ax.text(x0 + day, -0.527, name, transform=trans, ha='center', va='baseline')
    ax.text(0.5, -0.687, YEAR_LABEL, transform=ax.transAxes, ha='center', va='baseline')

# panel letters
for ax, lab in zip([ax_a1, ax_b, ax_c, ax_d, ax_e, ax_f], ['a)', 'b)', 'c)', 'd)', 'e)', 'f)']):
    ax.text(0.004, 1.012, lab, transform=ax.transAxes, ha='left', va='bottom')

# legend
handles = [Line2D([], [], color=BLUE, lw=2.4),
           Line2D([], [], color=RED, lw=2.4),
           Line2D([], [], color='0.8', marker='s', ls='', markersize=8.8)]
fig.legend(handles, ['WHOI', 'IMERG', 'Cold pools'], loc='center', bbox_to_anchor=(0.534, 0.961),
           ncol=3, frameon=False, handlelength=2.1, columnspacing=1.9, handletextpad=0.8,
           fontsize=11.9)

fig.savefig('out.png', dpi=DPI)
